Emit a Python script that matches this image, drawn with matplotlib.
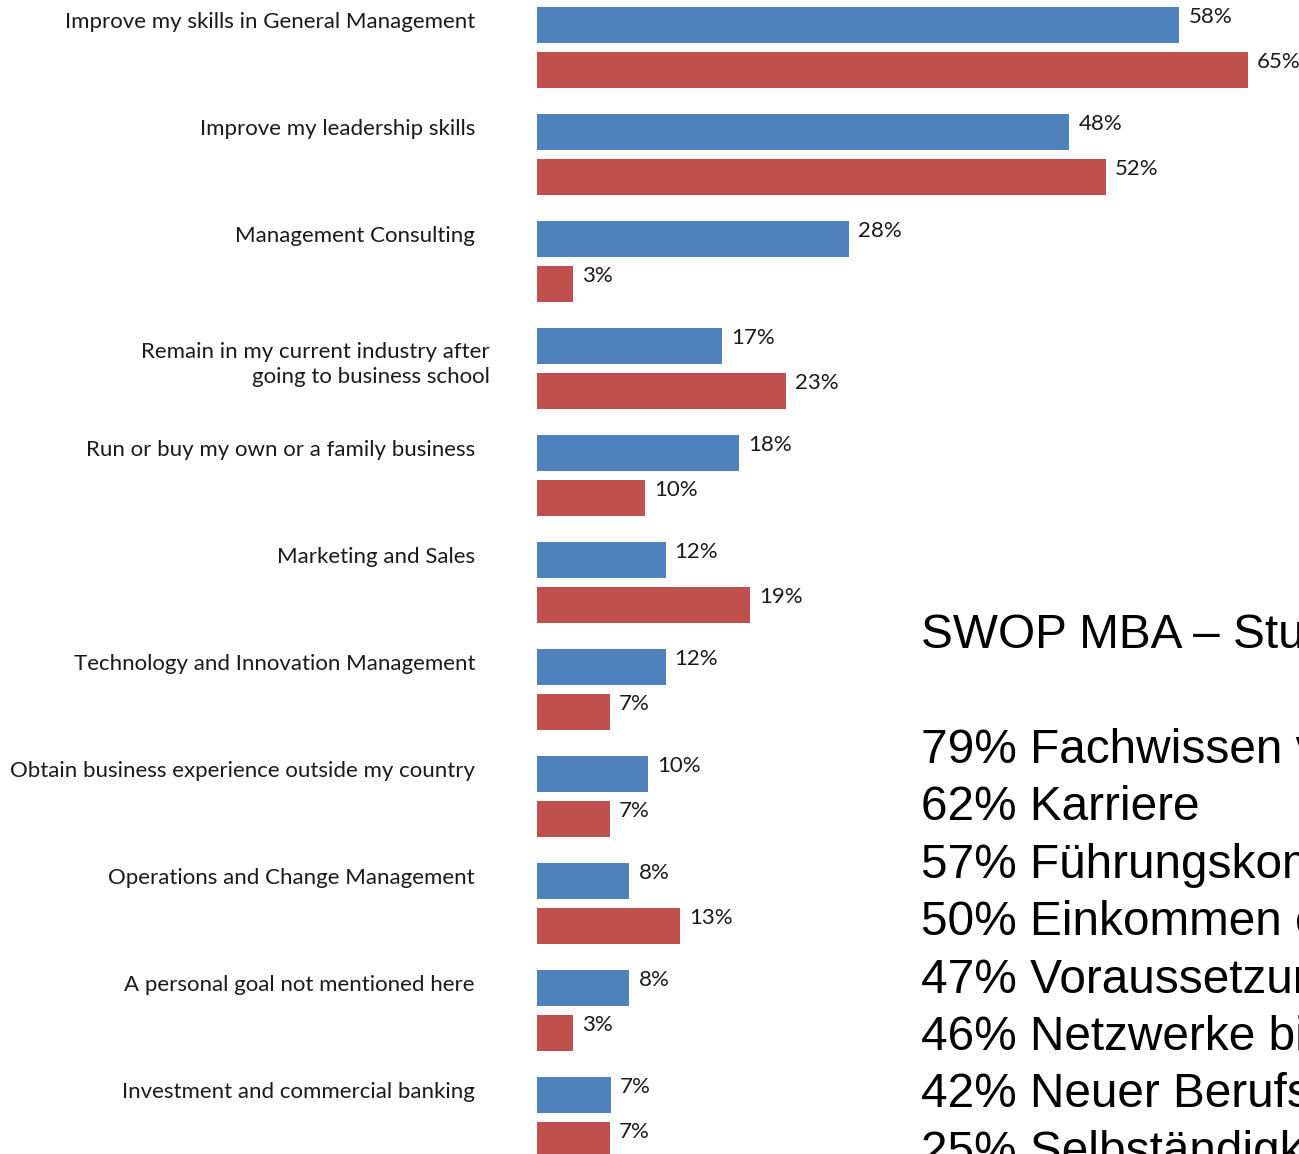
import matplotlib
matplotlib.use("Agg")
import matplotlib.pyplot as plt

# goals of MBA applicants: two survey groups per category (values in %,
# estimated from bar lengths; labels show the rounded value)
categories = [
    "Improve my skills in General Management",
    "Improve my leadership skills",
    "Management Consulting",
    "Remain in my current industry after\ngoing to business school",
    "Run or buy my own or a family business",
    "Marketing and Sales",
    "Technology and Innovation Management",
    "Obtain business experience outside my country",
    "Operations and Change Management",
    "A personal goal not mentioned here",
    "Investment and commercial banking",
]
blue_vals = [58.4, 48.4, 28.4, 16.8, 18.4, 11.7, 11.7, 10.1, 8.4, 8.4, 6.7]
red_vals = [64.6, 51.7, 3.3, 22.6, 9.8, 19.4, 6.6, 6.6, 13.0, 3.3, 6.6]

swop_title = "SWOP MBA – Studienziele"
swop_lines = [
    "79% Fachwissen vertiefen",
    "62% Karriere",
    "57% Führungskompetenz",
    "50% Einkommen erhöhen",
    "47% Voraussetzung für Aufstieg",
    "46% Netzwerke bilden",
    "42% Neuer Berufsschwerpunkt",
    "25% Selbständigkeit",
]

BLUE = "#4F81BD"
RED = "#C0504D"
W, H = 1299, 1154
PX_PER_PCT = 11.0
X0 = 537          # pixel where 0% sits
GROUP = 107.0     # pixel spacing of groups

fig = plt.figure(figsize=(W / 100, H / 100), dpi=100)
ax = fig.add_axes([0, 0, 1, 1])
ax.set_xlim(-X0 / PX_PER_PCT, (W - X0) / PX_PER_PCT)
ax.set_ylim((H - 47.5) / GROUP, -47.5 / GROUP)
ax.axis("off")

lab_font = "Lato"
fs = 16
y = list(range(len(categories)))
off = 22.5 / GROUP
bh = 36 / GROUP
yb = [v - off for v in y]
yr = [v + off for v in y]
ax.barh(yb, blue_vals, height=bh, color=BLUE, linewidth=0)
ax.barh(yr, red_vals, height=bh, color=RED, linewidth=0)

gap = 9 / PX_PER_PCT
for yy, vals in ((yb, blue_vals), (yr, red_vals)):
    for pos, v in zip(yy, vals):
        ax.text(v + gap, pos - 2 / GROUP, f"{v:.0f}%", ha="left", va="baseline",
                fontsize=fs, family=lab_font, color="#1a1a1a")

for i, cat in enumerate(categories):
    if "\n" in cat:
        ax.text((490 - X0) / PX_PER_PCT, i - 4 / GROUP, cat, ha="right", va="center",
                fontsize=fs, family=lab_font, color="#1a1a1a", linespacing=1.3)
    else:
        ax.text((475 - X0) / PX_PER_PCT, yb[i] + 3 / GROUP, cat, ha="right", va="baseline",
                fontsize=fs, family=lab_font, color="#1a1a1a")

# side text box, cut off by the right edge as in the original slide
fx = 921 / W
fig.text(fx, 1 - 648 / H, swop_title, ha="left", va="baseline",
         fontsize=34.4, family="Liberation Sans", color="black")
for k, line in enumerate(swop_lines):
    fig.text(fx, 1 - (763 + 57.4 * k) / H, line, ha="left", va="baseline",
             fontsize=34.4, family="Liberation Sans", color="black")

fig.savefig("out.png", dpi=100)
